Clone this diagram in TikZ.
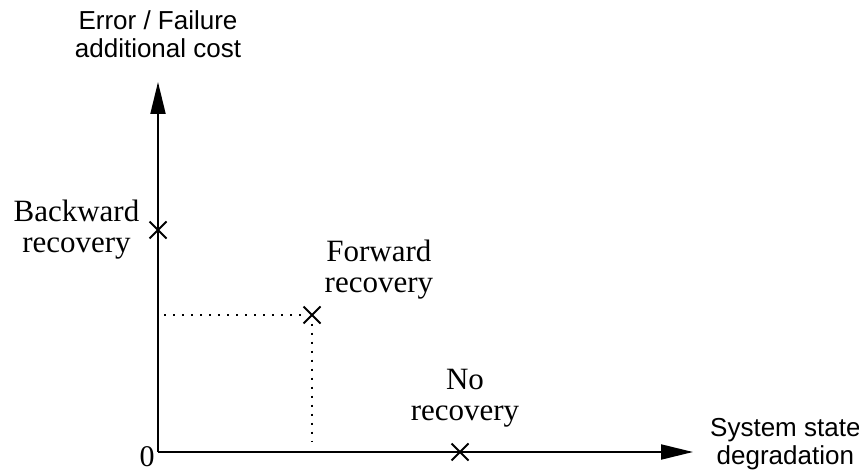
\documentclass[tikz,border=0pt]{standalone}
\usepackage{fontspec}
\setmainfont{Liberation Serif}
\setsansfont{Liberation Sans}
\usetikzlibrary{arrows.meta,positioning,shapes.misc}

\tikzset{
  axis/.style={line width=2pt,-{Triangle[length=32pt,width=15pt]}},
  xmark/.style={cross out,draw,line width=2pt,minimum size=15pt,inner sep=0pt},
  caselabel/.style={font=\fontsize{31}{31}\selectfont,align=center,inner sep=2pt},
  axislabel/.style={font=\sffamily\fontsize{26}{28}\selectfont,align=center,inner sep=2pt},
  guide/.style={line width=2pt,dash pattern=on 2pt off 7pt}
}

\begin{document}
\begin{tikzpicture}[x=1pt,y=1pt]
  \useasboundingbox (0,0) rectangle (859,472);

  % axes
  \coordinate (O) at (158,20);
  \coordinate (ytip) at (158,390);
  \coordinate (xtip) at (693,20);
  \draw [axis] (O) -- (ytip);
  \draw [axis] (O) -- (xtip);

  \node[axislabel, above=22pt of ytip] (ytext) {Error / Failure\\additional cost};
  \node[axislabel, right=15pt of xtip, yshift=8pt] (xtext) {System state\\degradation};
  \node[font=\fontsize{30}{30}\selectfont, inner sep=0pt, anchor=base] (zero) at ([shift={(-11,-14)}]O) {0};

  % recovery cases
  \node[xmark] (bw) at (158,242) {};
  \node[xmark] (fw) at (312,157) {};
  \node[xmark] (nr) at (460,20) {};

  \node[caselabel, left=8pt of bw] (bwtext) {Backward\\recovery};
  \node[caselabel, above right=5pt and 2pt of fw] (fwtext) {Forward\\recovery};
  \node[caselabel, above=14pt of nr, xshift=5pt] (nrtext) {No\\recovery};

  % projections of forward recovery
  \coordinate (fwy) at (O |- fw);
  \coordinate (fwx) at ([yshift=10pt]fw |- O);
  \draw [guide] ([xshift=6pt]fwy) -- (fw.west);
  \draw [guide] (fw.south) -- (fwx);
\end{tikzpicture}
\end{document}
